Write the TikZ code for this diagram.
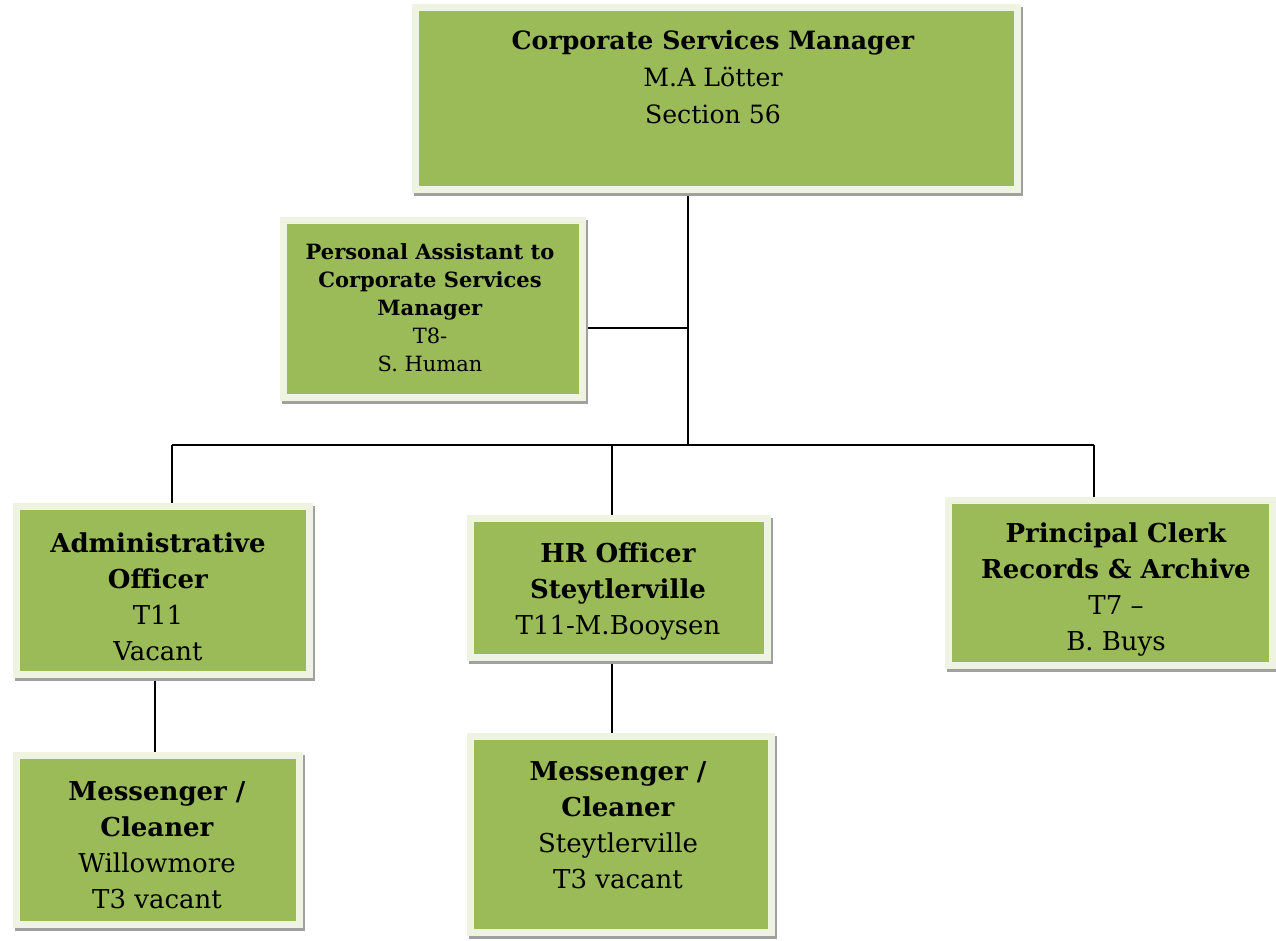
\documentclass[tikz,border=0pt]{standalone}
\usepackage{fontspec}
\setmainfont{DejaVu Serif}
\usetikzlibrary{backgrounds}
\definecolor{boxgreen}{HTML}{9BBB59}
\definecolor{boxpale}{HTML}{EEF3E2}
\definecolor{shadowgray}{HTML}{A0A0A0}
\begin{document}
\begin{tikzpicture}[x=1pt,y=-1pt,
  box/.style={rectangle, fill=boxgreen, draw=boxpale, line width=7pt, inner sep=0pt,
    preaction={draw=shadowgray, fill=shadowgray, line width=7pt, transform canvas={shift={(2pt,-3pt)}}}},
  txt/.style={align=center, anchor=base, inner sep=0pt, font=\fontsize{26}{36}\selectfont},
  smalltxt/.style={align=center, anchor=base, inner sep=0pt, font=\fontsize{21}{28}\selectfont},
  conn/.style={draw=black, line width=2pt}]
\useasboundingbox (0,0) rectangle (1276,941);

% boxes
\node[box, minimum width=602pt, minimum height=182pt] (csm) at (716.5,98.5) {};
\node[box, minimum width=299pt, minimum height=177pt] (pa) at (433,309) {};
\node[box, minimum width=293pt, minimum height=168pt] (adm) at (163,590.5) {};
\node[box, minimum width=297pt, minimum height=139pt] (hr) at (619,588) {};
\node[box, minimum width=324pt, minimum height=165pt] (pc) at (1110.5,583) {};
\node[box, minimum width=283pt, minimum height=169pt] (m1) at (158,840) {};
\node[box, minimum width=301pt, minimum height=196pt] (m2) at (621,834.5) {};

% texts (anchor base = baseline of the last line)
\node[txt, font=\fontsize{25.2}{37}\selectfont] (csm-t) at (713,124) {\textbf{Corporate Services Manager}\\M.A Lötter\\Section 56};
\node[smalltxt] (pa-t) at (430,371) {\textbf{Personal Assistant to}\\\textbf{Corporate Services}\\\textbf{Manager}\\T8-\\S. Human};
\node[txt] (adm-t) at (158,660) {\textbf{Administrative}\\\textbf{Officer}\\T11\\Vacant};
\node[txt] (hr-t) at (618,634) {\textbf{HR Officer}\\\textbf{Steytlerville}\\T11-M.Booysen};
\node[txt] (pc-t) at (1116,650) {\textbf{Principal Clerk}\\\textbf{Records \& Archive}\\T7 –\\B. Buys};
\node[txt] (m1-t) at (157,908) {\textbf{Messenger /}\\\textbf{Cleaner}\\Willowmore\\T3 vacant};
\node[txt] (m2-t) at (618,888) {\textbf{Messenger /}\\\textbf{Cleaner}\\Steytlerville\\T3 vacant};

% connectors
\coordinate (bus) at (688,445);
\coordinate (paj) at (688,328);
\coordinate (b1) at (172,445);
\coordinate (b2) at (612,445);
\coordinate (b3) at (1094,445);
\coordinate (c1) at (155,700);
\coordinate (c2) at (612,700);
\begin{scope}[on background layer]
\draw[conn] (csm.south -| bus) -- (bus);
\draw[conn] (pa.east |- paj) -- (paj);
\draw[conn] (b1) -- (b3);
\draw[conn] (b1) -- (b1 |- adm.north);
\draw[conn] (b2) -- (b2 |- hr.north);
\draw[conn] (b3) -- (b3 |- pc.north);
\draw[conn] (adm.south -| c1) -- (m1.north -| c1);
\draw[conn] (hr.south -| c2) -- (m2.north -| c2);
\end{scope}
\end{tikzpicture}
\end{document}
